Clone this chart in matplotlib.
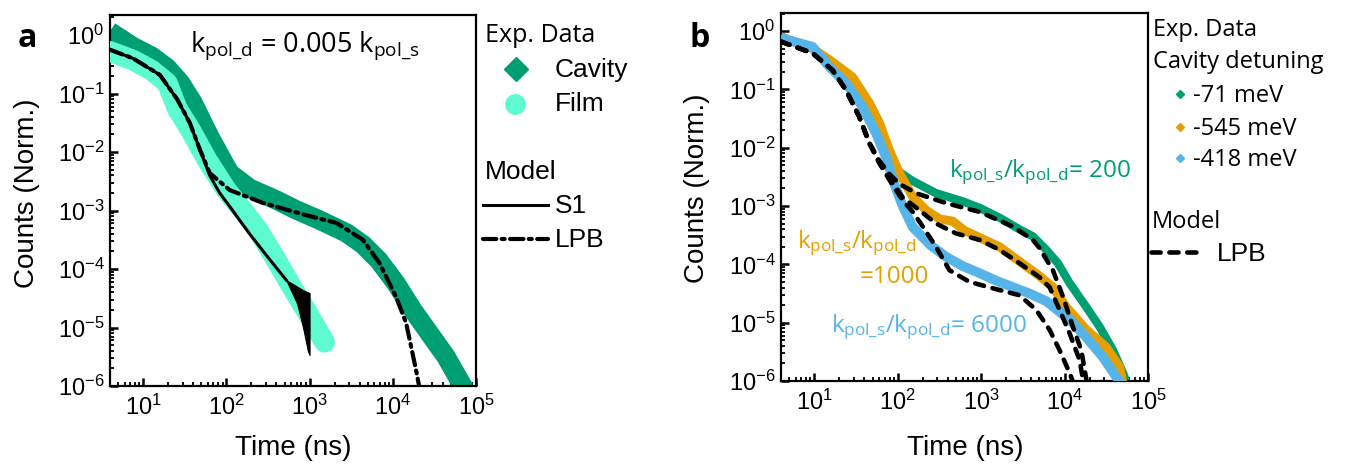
import numpy as np
import matplotlib
matplotlib.use('Agg')
import matplotlib.pyplot as plt
from matplotlib.lines import Line2D
from matplotlib.ticker import LogLocator, LogFormatterMathtext, NullFormatter

plt.rcParams['font.family'] = ['Liberation Sans', 'DejaVu Sans']
plt.rcParams['mathtext.default'] = 'regular'
plt.rcParams['axes.unicode_minus'] = False

# ---------------- data (log10 exponents) ----------------
# Panel a
cav_logt = [0.60, 0.88, 1.10, 1.29, 1.45, 1.60, 1.80, 2.04, 2.28, 2.60, 2.84, 3.10, 3.44, 3.64, 3.83, 4.04, 4.24, 4.44, 4.64, 4.86]
cav_logc = [0.06, -0.20, -0.36, -0.56, -0.82, -1.16, -1.74, -2.36, -2.62, -2.82, -2.99, -3.15, -3.38, -3.58, -3.85, -4.25, -4.70, -5.10, -5.50, -6.05]

film_logt = [0.60, 0.88, 1.10, 1.29, 1.41, 1.56, 1.77, 2.00, 2.20, 2.38, 2.58, 2.78, 2.98, 3.18]
film_logc = [-0.28, -0.43, -0.60, -0.82, -1.26, -1.60, -2.14, -2.65, -3.00, -3.33, -3.80, -4.29, -4.76, -5.25]

s1_logt = [0.60, 0.88, 1.20, 1.41, 1.56, 1.68, 1.80, 1.92, 2.05, 2.28, 2.50, 2.72]
s1_logc = [-0.25, -0.40, -0.68, -1.10, -1.50, -1.95, -2.40, -2.70, -2.95, -3.40, -3.80, -4.19]
# noisy end of the S1 model (upper / lower envelope)
s1_fan_logt = [2.72, 2.85, 2.92, 2.98, 3.00]
s1_fan_up = [-4.19, -4.30, -4.36, -4.40, -4.41]
s1_fan_lo = [-4.19, -4.59, -4.99, -5.40, -5.47]

lpb_a_logt = [0.60, 0.88, 1.20, 1.41, 1.56, 1.68, 1.80, 2.04, 2.44, 2.96, 3.32, 3.64, 3.84, 4.04, 4.16, 4.28, 4.33]
lpb_a_logc = [-0.25, -0.40, -0.68, -1.10, -1.50, -1.95, -2.36, -2.65, -2.87, -3.08, -3.21, -3.50, -3.90, -4.48, -4.92, -5.73, -6.10]

# Panel b
grn_logt = [0.60, 0.98, 1.18, 1.38, 1.58, 1.78, 1.98, 2.18, 2.46, 2.78, 2.98, 3.22, 3.46, 3.62, 3.78, 3.92, 4.06, 4.26, 4.42, 4.58, 4.70, 4.75]
grn_logc = [-0.10, -0.30, -0.55, -0.85, -1.25, -1.80, -2.38, -2.57, -2.78, -2.92, -3.03, -3.20, -3.40, -3.52, -3.75, -3.98, -4.32, -4.73, -5.07, -5.47, -5.86, -6.05]

org_logt = [0.60, 0.98, 1.18, 1.46, 1.66, 1.78, 1.90, 2.02, 2.18, 2.34, 2.50, 2.66, 2.80, 2.98, 3.22, 3.46, 3.70, 3.86, 4.02, 4.26, 4.50, 4.66, 4.70]
org_logc = [-0.10, -0.30, -0.49, -0.79, -1.23, -1.57, -2.04, -2.43, -2.84, -3.07, -3.22, -3.26, -3.42, -3.54, -3.70, -3.95, -4.20, -4.39, -4.73, -5.12, -5.42, -5.76, -6.05]

blu_logt = [0.60, 0.98, 1.18, 1.38, 1.58, 1.74, 1.86, 1.96, 2.06, 2.18, 2.40, 2.58, 2.78, 2.98, 3.18, 3.38, 3.58, 3.78, 4.06, 4.26, 4.46, 4.62, 4.68]
blu_logc = [-0.12, -0.27, -0.61, -0.89, -1.30, -1.75, -2.16, -2.62, -3.00, -3.36, -3.68, -3.87, -4.03, -4.15, -4.28, -4.39, -4.50, -4.63, -4.95, -5.25, -5.59, -5.93, -6.05]

m200_logt = [0.60, 0.98, 1.22, 1.38, 1.54, 1.66, 1.78, 1.90, 2.02, 2.22, 2.58, 2.98, 3.38, 3.62, 3.70, 3.86, 3.98, 4.10, 4.20, 4.27]
m200_logc = [-0.18, -0.38, -0.67, -1.01, -1.47, -1.92, -2.22, -2.45, -2.62, -2.78, -2.95, -3.10, -3.35, -3.58, -3.72, -4.10, -4.55, -5.07, -5.47, -6.05]

m1000_logt = [0.60, 0.98, 1.22, 1.38, 1.54, 1.66, 1.78, 1.90, 2.06, 2.26, 2.46, 2.70, 2.98, 3.22, 3.46, 3.70, 3.82, 3.94, 4.06, 4.18, 4.23]
m1000_logc = [-0.18, -0.38, -0.67, -1.01, -1.47, -1.92, -2.26, -2.52, -2.85, -3.07, -3.30, -3.47, -3.58, -3.75, -3.98, -4.22, -4.39, -4.78, -5.18, -5.64, -6.05]

m6000_logt = [0.60, 0.98, 1.22, 1.38, 1.54, 1.66, 1.78, 1.90, 2.06, 2.18, 2.30, 2.46, 2.62, 2.86, 3.14, 3.46, 3.66, 3.82, 3.94, 4.06, 4.11]
m6000_logc = [-0.18, -0.38, -0.67, -1.01, -1.47, -1.92, -2.26, -2.55, -2.90, -3.10, -3.35, -3.70, -4.10, -4.30, -4.41, -4.53, -4.78, -5.12, -5.47, -5.86, -6.05]

legend_b_labels = ['-71 meV', '-545 meV', '-418 meV']

C_CAV = '#009E73'
C_FILM = '#5EFAD0'
C_ORG = '#E69F00'
C_BLU = '#56B4E9'

def p(v):
    return 10.0 ** np.asarray(v)

# ---------------- figure ----------------
W, H = 1347, 465
fig = plt.figure(figsize=(W / 100, H / 100), dpi=100)

def fx(x):
    return x / W

def fy(y):
    return 1 - y / H

def make_axes(l, r, t, b):
    return fig.add_axes([fx(l), fy(b), (r - l) / W, (b - t) / H])

axa = make_axes(110, 476, 15, 386)
axb = make_axes(781, 1148, 13, 381)

def style(ax, ylim, xlab_xy, ylab_xy):
    ax.set_xscale('log')
    ax.set_yscale('log')
    ax.set_xlim(4, 1e5)
    ax.set_ylim(*ylim)
    for s in ax.spines.values():
        s.set_linewidth(1.6)
    for axis in (ax.xaxis, ax.yaxis):
        axis.set_major_locator(LogLocator(base=10, numticks=12))
        axis.set_minor_locator(LogLocator(base=10, subs=np.arange(2, 10), numticks=40))
        axis.set_major_formatter(LogFormatterMathtext())
        axis.set_minor_formatter(NullFormatter())
    ax.tick_params(which='major', direction='in', length=6, width=1.8, labelsize=17,
                   top=False, right=False)
    ax.tick_params(which='minor', direction='in', length=3, width=1.3, top=False, right=False)
    ax.tick_params(axis='y', which='major', pad=4)
    ax.tick_params(axis='x', which='major', pad=6)
    ax.set_xlabel('Time (ns)', fontsize=20)
    ax.set_ylabel('Counts (Norm.)', fontsize=20)
    ax.xaxis.label.set_va('center')
    ax.yaxis.label.set_va('center')
    ax.xaxis.set_label_coords(*xlab_xy)
    ax.yaxis.set_label_coords(*ylab_xy)

style(axa, (1e-6, 2.2), (0.50, -0.167), (-0.227, 0.52))
style(axb, (1e-6, 2.04), (0.501, -0.182), (-0.229, 0.524))

# ---------------- panel a ----------------
axa.plot(p(cav_logt), p(cav_logc), color=C_CAV, lw=14, solid_capstyle='butt',
         solid_joinstyle='round', zorder=2)
axa.plot(p(film_logt), p(film_logc), color=C_FILM, lw=15, solid_capstyle='round',
         solid_joinstyle='round', zorder=3)
axa.plot(p(s1_logt), p(s1_logc), color='black', lw=2.2, solid_joinstyle='round', zorder=4)
axa.fill_between(p(s1_fan_logt), p(s1_fan_lo), p(s1_fan_up), color='black', lw=0.8,
                 edgecolor='black', zorder=4)
axa.plot(p(lpb_a_logt), p(lpb_a_logc), color='black', lw=3.0,
         dashes=(3.2, 1.3, 0.7, 1.3), dash_capstyle='round', zorder=5)

fig.text(fx(190), fy(52), r'$k_{pol\_d}$ = 0.005 $k_{pol\_s}$', family=['Open Sans'],
         fontsize=19.5, ha='left', va='baseline')
fig.text(fx(18), fy(38), 'a', family=['Open Sans'], fontweight='bold', fontsize=23,
         ha='left', va='center')

# legend a
fig.text(fx(485), fy(35), 'Exp. Data', family=['Open Sans'], fontsize=18, ha='left', va='center')
fig.add_artist(Line2D([fx(516)], [fy(69)], marker='D', markersize=12.5, color=C_CAV, lw=0))
fig.text(fx(555), fy(70), 'Cavity', fontsize=19, ha='left', va='center')
fig.add_artist(Line2D([fx(515)], [fy(104)], marker='o', markersize=14, color=C_FILM, lw=0))
fig.text(fx(555), fy(104), 'Film', fontsize=19, ha='left', va='center')
fig.text(fx(485), fy(172), 'Model', fontsize=19, ha='left', va='center')
fig.add_artist(Line2D([fx(483), fx(548)], [fy(205), fy(205)], color='black', lw=2.2))
fig.text(fx(555), fy(206), 'S1', fontsize=19, ha='left', va='center')
fig.add_artist(Line2D([fx(483), fx(548)], [fy(239), fy(239)], color='black', lw=3.0,
                      dashes=(3.2, 1.3, 0.7, 1.3), dash_capstyle='round'))
fig.text(fx(555), fy(240), 'LPB', fontsize=19, ha='left', va='center')

# ---------------- panel b ----------------
axb.plot(p(grn_logt), p(grn_logc), color=C_CAV, lw=6, solid_capstyle='butt', zorder=2)
axb.plot(p(org_logt), p(org_logc), color=C_ORG, lw=6.5, solid_capstyle='butt', zorder=3)
axb.plot(p(blu_logt), p(blu_logc), color=C_BLU, lw=7, solid_capstyle='butt', zorder=4)
for mt, mc in ((m200_logt, m200_logc), (m1000_logt, m1000_logc), (m6000_logt, m6000_logc)):
    axb.plot(p(mt), p(mc), color='black', lw=3.3, dashes=(2.0, 1.9),
             dash_capstyle='round', zorder=5)

fig.text(fx(949), fy(177), r'$k_{pol\_s}$/$k_{pol\_d}$= 200', family=['Open Sans'],
         fontsize=17.5, color=C_CAV, ha='left', va='baseline')
fig.text(fx(797), fy(248), r'$k_{pol\_s}$/$k_{pol\_d}$', family=['Open Sans'],
         fontsize=17.5, color=C_ORG, ha='left', va='baseline')
fig.text(fx(860), fy(283), '=1000', family=['Open Sans'],
         fontsize=17.5, color=C_ORG, ha='left', va='baseline')
fig.text(fx(831), fy(332), r'$k_{pol\_s}$/$k_{pol\_d}$= 6000', family=['Open Sans'],
         fontsize=17.5, color=C_BLU, ha='left', va='baseline')
fig.text(fx(690), fy(38), 'b', family=['Open Sans'], fontweight='bold', fontsize=23,
         ha='left', va='center')

# legend b
fig.text(fx(1153), fy(30), 'Exp. Data', family=['Open Sans'], fontsize=17, ha='left', va='center')
fig.text(fx(1153), fy(62), 'Cavity detuning', family=['Open Sans'], fontsize=17, ha='left', va='center')
for yy, col, lab in zip((94, 127, 158), (C_CAV, C_ORG, C_BLU), legend_b_labels):
    fig.add_artist(Line2D([fx(1180)], [fy(yy)], marker='D', markersize=4, color=col, lw=0))
    fig.text(fx(1193), fy(yy + 2), lab, family=['Open Sans'], fontsize=17, ha='left', va='center')
fig.text(fx(1152), fy(222), 'Model', family=['Open Sans'], fontsize=17, ha='left', va='center')
fig.add_artist(Line2D([fx(1151), fx(1202)], [fy(252), fy(252)], color='black', lw=3.3,
                      dashes=(2.0, 1.9), dash_capstyle='round'))
fig.text(fx(1217), fy(254), 'LPB', fontsize=19, ha='left', va='center')

fig.savefig('out.png', dpi=100)
